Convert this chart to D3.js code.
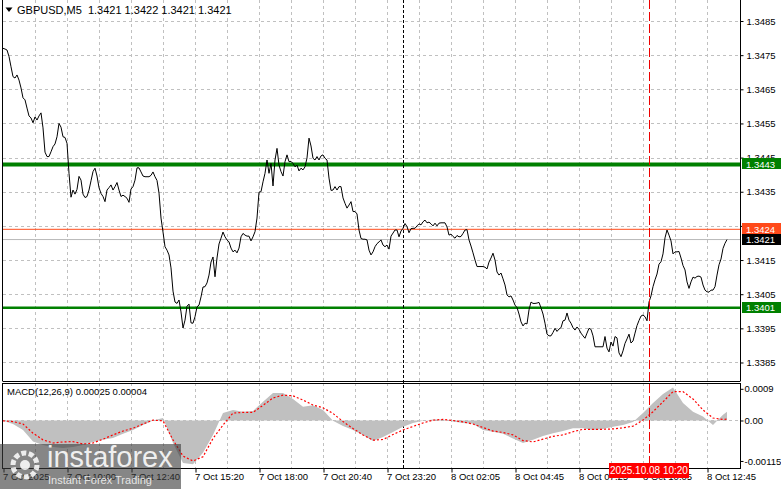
<!DOCTYPE html>
<html><head><meta charset="utf-8">
<script src="https://cdn.jsdelivr.net/npm/d3@7"></script>
<style>
html,body{margin:0;padding:0;background:#fff;}
svg{display:block;font-family:"Liberation Sans",Arial,sans-serif;}
</style></head>
<body><svg id="c" width="781" height="489"></svg>
<script>
// ---------- data ----------
const symbol = "GBPUSD,M5";
const ohlc = ["1.3421","1.3422","1.3421","1.3421"];
const closes = [
1.34770,1.34768,1.34765,1.34746,1.34716,1.34687,1.34683,1.34692,1.34677,1.34654,
1.34625,1.34619,1.34595,1.34572,1.34566,1.34552,1.34569,1.34560,1.34572,1.34581,
1.34537,1.34466,1.34453,1.34453,1.34467,1.34482,1.34490,1.34511,1.34550,1.34539,
1.34511,1.34509,1.34492,1.34404,1.34334,1.34355,1.34343,1.34357,1.34395,1.34384,
1.34343,1.34333,1.34336,1.34355,1.34382,1.34409,1.34419,1.34396,1.34362,1.34345,
1.34336,1.34321,1.34355,1.34362,1.34370,1.34355,1.34365,1.34377,1.34355,1.34336,
1.34340,1.34336,1.34331,1.34319,1.34358,1.34365,1.34384,1.34420,1.34420,1.34408,
1.34396,1.34394,1.34394,1.34394,1.34398,1.34408,1.34394,1.34383,1.34346,1.34273,
1.34232,1.34189,1.34179,1.34165,1.34127,1.34059,1.34027,1.34023,1.34033,1.33998,
1.33951,1.33974,1.34015,1.34021,1.33966,1.33965,1.33984,1.34013,1.34018,1.34042,
1.34071,1.34072,1.34083,1.34106,1.34144,1.34159,1.34101,1.34156,1.34197,1.34214,
1.34232,1.34218,1.34209,1.34203,1.34185,1.34174,1.34179,1.34171,1.34185,1.34218,
1.34228,1.34223,1.34220,1.34220,1.34206,1.34218,1.34233,1.34273,1.34349,1.34350,
1.34379,1.34404,1.34443,1.34404,1.34433,1.34367,1.34443,1.34477,1.34428,1.34409,
1.34396,1.34438,1.34458,1.34438,1.34439,1.34433,1.34423,1.34428,1.34411,1.34419,
1.34414,1.34423,1.34449,1.34507,1.34484,1.34448,1.34443,1.34453,1.34443,1.34455,
1.34458,1.34448,1.34443,1.34390,1.34354,1.34355,1.34365,1.34355,1.34365,1.34365,
1.34332,1.34316,1.34302,1.34311,1.34321,1.34292,1.34292,1.34285,1.34238,1.34213,
1.34211,1.34211,1.34209,1.34179,1.34165,1.34174,1.34189,1.34198,1.34203,1.34209,
1.34194,1.34189,1.34194,1.34182,1.34220,1.34229,1.34238,1.34238,1.34218,1.34235,
1.34243,1.34257,1.34248,1.34230,1.34242,1.34243,1.34243,1.34250,1.34256,1.34253,
1.34262,1.34267,1.34259,1.34261,1.34256,1.34250,1.34258,1.34250,1.34258,1.34259,
1.34259,1.34259,1.34247,1.34223,1.34226,1.34219,1.34214,1.34222,1.34218,1.34219,
1.34228,1.34238,1.34239,1.34209,1.34191,1.34171,1.34150,1.34131,1.34131,1.34131,
1.34131,1.34129,1.34124,1.34144,1.34156,1.34170,1.34150,1.34115,1.34106,1.34112,
1.34095,1.34077,1.34048,1.34042,1.34045,1.34033,1.34018,1.34011,1.33992,1.33969,
1.33957,1.33965,1.33963,1.34004,1.34027,1.34023,1.34023,1.34024,1.34026,1.34010,
1.33992,1.33965,1.33933,1.33928,1.33928,1.33938,1.33950,1.33941,1.33948,1.33952,
1.33972,1.33974,1.33995,1.33974,1.33965,1.33952,1.33945,1.33954,1.33947,1.33936,
1.33928,1.33921,1.33936,1.33950,1.33947,1.33928,1.33896,1.33896,1.33896,1.33896,
1.33896,1.33926,1.33892,1.33881,1.33910,1.33898,1.33926,1.33922,1.33878,1.33867,
1.33884,1.33906,1.33919,1.33933,1.33907,1.33913,1.33936,1.33958,1.33973,1.33986,
1.33989,1.33984,1.33972,1.34027,1.34045,1.34072,1.34092,1.34109,1.34138,1.34145,
1.34168,1.34215,1.34238,1.34223,1.34206,1.34168,1.34174,1.34174,1.34175,1.34156,
1.34134,1.34121,1.34086,1.34067,1.34086,1.34100,1.34097,1.34102,1.34103,1.34100,
1.34077,1.34062,1.34057,1.34056,1.34062,1.34062,1.34072,1.34106,1.34136,1.34153,
1.34184,1.34199,1.34210];
const macdBars = d3.range(0, 361, 5).concat([362]);
const macdHist = [
-0.00001,-0.00010,-0.00027,-0.00060,-0.00070,-0.00075,-0.00078,-0.00075,-0.00070,-0.00061,
-0.00055,-0.00050,-0.00038,-0.00027,-0.00013,0.00000,0.00007,-0.00064,-0.00121,-0.00124,
-0.00092,-0.00041,0.00021,0.00030,0.00025,0.00027,0.00053,0.00078,0.00078,0.00061,
0.00039,0.00043,0.00030,-0.00001,-0.00016,-0.00027,-0.00041,-0.00058,-0.00047,-0.00033,
-0.00018,-0.00007,-0.00001,0.00003,0.00003,-0.00003,-0.00007,-0.00009,-0.00027,-0.00032,
-0.00038,-0.00051,-0.00064,-0.00055,-0.00044,-0.00036,-0.00030,-0.00022,-0.00022,-0.00027,
-0.00024,-0.00018,-0.00013,-0.00004,0.00021,0.00050,0.00075,0.00094,0.00050,0.00025,
0.00011,-0.00013,0.00016,0.00025];
const macdSignal = [
-0.00001,-0.00003,-0.00010,-0.00036,-0.00055,-0.00064,-0.00061,-0.00060,-0.00067,-0.00064,
-0.00053,-0.00041,-0.00030,-0.00022,-0.00010,0.00001,-0.00001,-0.00055,-0.00101,-0.00115,
-0.00103,-0.00051,-0.00013,0.00021,0.00023,0.00023,0.00043,0.00064,0.00072,0.00070,
0.00058,0.00044,0.00036,0.00020,-0.00003,-0.00023,-0.00041,-0.00056,-0.00054,-0.00040,
-0.00027,-0.00017,-0.00007,0.00001,0.00003,0.00000,-0.00004,-0.00010,-0.00020,-0.00030,
-0.00034,-0.00041,-0.00057,-0.00061,-0.00053,-0.00045,-0.00041,-0.00032,-0.00025,-0.00025,
-0.00025,-0.00024,-0.00021,-0.00016,0.00001,0.00025,0.00053,0.00082,0.00082,0.00061,
0.00030,0.00007,0.00003,0.00004];
const priceTicks = [1.3385,1.3395,1.3405,1.3415,1.3425,1.3435,1.3445,1.3455,1.3465,1.3475,1.3485];
const macdTicks = [0.0009, 0, -0.00115];
const macdTickLabels = ["0.0009","0.00","-0.00115"];
const timeTickBars = [0,32,64,96,128,160,192,224,256,288,320,352];
const timeLabels = ["7 Oct 2025","7 Oct 10:00","7 Oct 12:40","7 Oct 15:20","7 Oct 18:00","7 Oct 20:40",
  "7 Oct 23:20","8 Oct 02:05","8 Oct 04:45","8 Oct 07:25","8 Oct 10:05","8 Oct 12:45"];
const levelHigh = 1.3443, levelLow = 1.3401;
const askLevel = 1.3424, bidLevel = 1.3421;
const daySepBar = 200;
const cursorBar = 323;
const cursorLabel = "2025.10.08 10:20";
const macdTitle = "MACD(12,26,9) 0.00025 0.00004";

// ---------- layout ----------
const svg = d3.select("#c");
const L = 3, R = 740, mainTop = 0, mainBot = 381, mTop = 383, mBot = 468;
const x = d3.scaleLinear().domain([0, 368.5]).range([L, R]);
const y = d3.scaleLinear().domain([1.337958, 1.349115]).range([mainBot, mainTop]);
const ym = d3.scaleLinear().domain([-0.00135, 0.001065]).range([mBot, mTop]);
const gridCol = "#c0c0c0";
const fnt = 9.5;
const ff = "Liberation Sans, Arial, sans-serif";

// vertical grid
const gridBars = d3.range(16, 368, 16);
[[mainTop, mainBot],[mTop, mBot]].forEach(([t,b]) => {
  svg.append("g").selectAll("line").data(gridBars).join("line")
    .attr("x1", d => Math.round(x(d))+0.5).attr("x2", d => Math.round(x(d))+0.5)
    .attr("y1", t).attr("y2", b)
    .attr("stroke", gridCol).attr("stroke-dasharray", "3,3");
});
// horizontal grid (price)
svg.append("g").selectAll("line").data(priceTicks).join("line")
  .attr("x1", L).attr("x2", R)
  .attr("y1", d => Math.round(y(d))+0.5).attr("y2", d => Math.round(y(d))+0.5)
  .attr("stroke", gridCol).attr("stroke-dasharray", "3,3");
// MACD zero line
svg.append("line").attr("x1", L).attr("x2", R)
  .attr("y1", Math.round(ym(0))+0.5).attr("y2", Math.round(ym(0))+0.5)
  .attr("stroke", gridCol).attr("stroke-dasharray", "3,3");

// level lines
svg.append("line").attr("x1", L).attr("x2", R).attr("y1", y(askLevel)).attr("y2", y(askLevel))
  .attr("stroke", "#ff4a1a").attr("stroke-width", 1);
svg.append("line").attr("x1", L).attr("x2", R).attr("y1", y(bidLevel)).attr("y2", y(bidLevel))
  .attr("stroke", "#b8b8b8").attr("stroke-width", 1);
svg.append("line").attr("x1", L).attr("x2", R).attr("y1", y(levelHigh)).attr("y2", y(levelHigh))
  .attr("stroke", "#008000").attr("stroke-width", 4);
svg.append("line").attr("x1", L).attr("x2", R).attr("y1", y(levelLow)).attr("y2", y(levelLow))
  .attr("stroke", "#008000").attr("stroke-width", 2.5);

// day separator
svg.append("line").attr("x1", Math.round(x(daySepBar))+0.5).attr("x2", Math.round(x(daySepBar))+0.5)
  .attr("y1", mainTop).attr("y2", mBot).attr("stroke", "#000").attr("stroke-dasharray", "3,2");

// MACD histogram
const histArea = d3.area().x((d,i) => x(macdBars[i])).y0(ym(0)).y1(d => ym(d));
svg.append("path").attr("d", histArea(macdHist)).attr("fill", "#c0c0c0");
// MACD signal
const sigLine = d3.line().x((d,i) => x(macdBars[i])).y(d => ym(d));
svg.append("path").attr("d", sigLine(macdSignal)).attr("fill", "none")
  .attr("stroke", "#ff0000").attr("stroke-width", 1.2).attr("stroke-dasharray", "2,2");

// price line
const pLine = d3.line().x((d,i) => x(i)).y(d => y(d));
svg.append("path").attr("d", pLine(closes)).attr("fill", "none").attr("stroke", "#000").attr("stroke-width", 1);

// cursor line
const cx = Math.round(x(cursorBar))+0.5;
svg.append("line").attr("x1", cx).attr("x2", cx).attr("y1", mainTop).attr("y2", mBot)
  .attr("stroke", "#ee0000").attr("stroke-dasharray", "9,3");

// frames
svg.append("line").attr("x1",2.5).attr("x2",2.5).attr("y1",0).attr("y2",mainBot).attr("stroke","#000");
svg.append("line").attr("x1",R+0.5).attr("x2",R+0.5).attr("y1",0).attr("y2",mainBot).attr("stroke","#000");
svg.append("line").attr("x1",2.5).attr("x2",R+0.5).attr("y1",mainBot+0.5).attr("y2",mainBot+0.5).attr("stroke","#000");
svg.append("rect").attr("x", 2.5).attr("y", mTop+0.5).attr("width", R-2).attr("height", mBot-mTop)
  .attr("fill", "none").attr("stroke", "#000");

// price axis
const yAxis = d3.axisRight(y).tickValues(priceTicks).tickSize(3).tickFormat(d3.format(".4f"));
const ga = svg.append("g").attr("transform", `translate(${R+0.5},0)`).call(yAxis);
ga.select(".domain").remove();
ga.selectAll("text").attr("x", 6).attr("font-size", fnt).attr("font-family", ff).attr("fill", "#000");

// macd axis
const mAxis = d3.axisRight(ym).tickValues(macdTicks).tickSize(3).tickFormat((d,i) => macdTickLabels[i]);
const gm = svg.append("g").attr("transform", `translate(${R+0.5},0)`).call(mAxis);
gm.select(".domain").remove();
gm.selectAll("text").attr("x", 4).attr("font-size", fnt).attr("font-family", ff).attr("fill", "#000");

// price label boxes
const boxes = [[levelHigh, "#008000", "#fff"], [askLevel, "#ff4a1a", "#fff"], [bidLevel, "#000", "#fff"], [levelLow, "#008000", "#fff"]];
boxes.forEach(([v, bg, fg]) => {
  const yy = y(v);
  svg.append("rect").attr("x", R+2).attr("y", Math.round(yy)-6).attr("width", 39).attr("height", 11).attr("fill", bg);
  svg.append("text").attr("x", R+6).attr("y", yy).attr("dy", "0.35em").attr("font-size", fnt)
    .attr("fill", fg).text(d3.format(".4f")(v));
});

// time axis
const xAxis = d3.axisBottom(x).tickValues(timeTickBars).tickSize(4).tickFormat((d,i) => timeLabels[i]);
const gx = svg.append("g").attr("transform", `translate(0.5,${mBot+0.5})`).call(xAxis);
gx.select(".domain").remove();
gx.selectAll("text").attr("text-anchor", "start").attr("x", -1).attr("y", 5).attr("dy", "0.71em")
  .attr("font-size", fnt).attr("font-family", ff).attr("fill", "#000");

// cursor time label
svg.append("rect").attr("x", 609).attr("y", 463).attr("width", 80).attr("height", 15).attr("fill", "#ff0000");
svg.append("text").attr("x", 649).attr("y", 474).attr("text-anchor", "middle").attr("font-size", 10)
  .attr("fill", "#fff").text(cursorLabel);

// header
const hdr = svg.append("g");
hdr.append("path").attr("d", "M5.5,7.5 L12.5,7.5 L9,12 Z").attr("fill", "#000");
hdr.append("text").attr("x", 17).attr("y", 14).attr("font-size", 11).attr("fill", "#000")
  .attr("xml:space", "preserve").style("white-space", "pre").text(symbol + "  " + ohlc.join(" "));
svg.append("text").attr("x", 7).attr("y", 395).attr("font-size", fnt).attr("fill", "#000").text(macdTitle);

// watermark
const wm = svg.append("g");
wm.append("rect").attr("x", 0).attr("y", 444).attr("width", 181).attr("height", 45).attr("fill", "rgba(60,60,60,0.62)");
wm.append("circle").attr("cx", 25).attr("cy", 465).attr("r", 12).attr("fill", "none").attr("stroke", "rgba(255,255,255,0.85)").attr("stroke-width", 5).attr("stroke-dasharray", "5,2.5");
wm.append("circle").attr("cx", 25).attr("cy", 465).attr("r", 5).attr("fill", "rgba(255,255,255,0.85)");
wm.append("text").attr("x", 47).attr("y", 467).attr("font-size", 29).attr("fill", "rgba(255,255,255,0.88)").text("instaforex");
wm.append("text").attr("x", 48).attr("y", 484).attr("font-size", 11).attr("fill", "rgba(255,255,255,0.8)").text("Instant Forex Trading");
</script></body></html>
